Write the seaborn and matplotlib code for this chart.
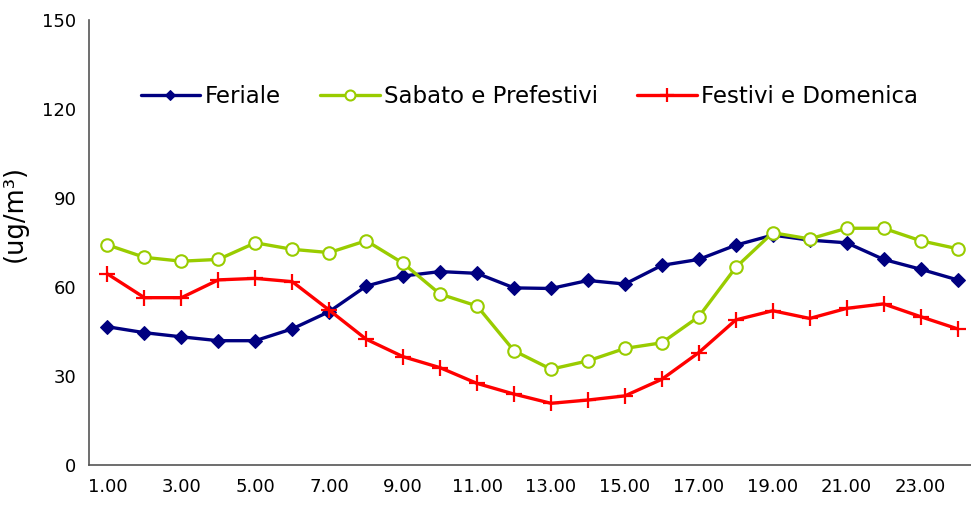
import numpy as np
import pandas as pd
import matplotlib
matplotlib.use('Agg')
import matplotlib.pyplot as plt
import seaborn as sns

# ── Data (hourly mean, ug/m3) ────────────────────────────────────────────────
hours = [f'{h}.00' for h in range(1, 25)]
feriale = [46.6, 44.6, 43.2, 41.9, 41.9, 45.9, 51.7, 60.3, 63.7, 65.2, 64.6, 59.7,
           59.5, 62.2, 61.0, 67.3, 69.3, 74.1, 77.5, 75.8, 74.9, 69.3, 66.0, 62.4]
sabato = [74.2, 70.0, 68.7, 69.3, 74.9, 72.7, 71.6, 75.6, 68.0, 57.6, 53.6, 38.5,
          32.3, 35.1, 39.3, 41.2, 50.0, 66.6, 78.3, 76.2, 79.8, 79.8, 75.6, 72.9]
festivi = [64.4, 56.4, 56.4, 62.4, 62.9, 61.8, 52.2, 42.4, 36.5, 32.8, 27.5, 23.9,
           20.8, 21.9, 23.3, 28.9, 37.9, 48.9, 52.0, 49.4, 52.8, 54.3, 50.0, 45.9]
series_names = ['Feriale', 'Sabato e Prefestivi', 'Festivi e Domenica']
yticks = [0, 30, 60, 90, 120, 150]

pos = np.arange(len(hours))
df = pd.DataFrame({'pos': pos, 'Feriale': feriale,
                   'Sabato e Prefestivi': sabato, 'Festivi e Domenica': festivi})

sns.set_style('white')
plt.rcParams['font.family'] = ['DejaVu Sans']
plt.rcParams['text.color'] = 'black'
plt.rcParams['axes.labelcolor'] = 'black'
plt.rcParams['xtick.color'] = 'black'
plt.rcParams['ytick.color'] = 'black'

fig = plt.figure(figsize=(9.71, 5.09), dpi=100)
ax = fig.add_axes([89 / 971, 44 / 509, 887 / 971, 445 / 509])

styles = {
    'Feriale': dict(color='#000080', marker='D', markersize=7,
                    markerfacecolor='#000080', markeredgecolor='#000080'),
    'Sabato e Prefestivi': dict(color='#99CC00', marker='o', markersize=9,
                                markerfacecolor='white', markeredgecolor='#99CC00',
                                markeredgewidth=1.5),
    'Festivi e Domenica': dict(color='#FF0000', marker='+', markersize=12,
                               markeredgecolor='#FF0000', markeredgewidth=1.6),
}
for name in series_names:
    sns.lineplot(data=df, x='pos', y=name, ax=ax, label=name, linewidth=2.4,
                 **styles[name])

# axes
ax.set_xlim(-0.5, len(hours) - 0.5)
ax.set_ylim(0, 150)
ax.set_yticks(yticks)
ax.set_xticks(pos[::2])
ax.set_xticklabels(hours[::2])
ax.set_xticks(np.arange(len(hours) + 1) - 0.5, minor=True)
ax.tick_params(axis='x', which='major', length=0, pad=9, labelsize=13)
ax.tick_params(axis='x', which='minor', length=5, width=1, color='#555555', direction='out')
ax.tick_params(axis='y', length=5, width=1, color='#555555', direction='out', labelsize=13, pad=4)
ax.set_xlabel('')
ax.set_ylabel('(ug/m³)', fontsize=18.5)
ax.yaxis.set_label_coords(-0.069, 0.566)
for s in ['top', 'right']:
    ax.spines[s].set_visible(False)
for s in ['left', 'bottom']:
    ax.spines[s].set_color('#555555')
    ax.spines[s].set_linewidth(1.2)

leg = ax.legend(loc='center left', bbox_to_anchor=(0.035, 0.827), ncol=3, frameon=False,
                fontsize=16.5, handlelength=2.6, handletextpad=0.2, columnspacing=1.7,
                markerscale=0.8)

plt.savefig('out.png', dpi=100)
plt.close()
